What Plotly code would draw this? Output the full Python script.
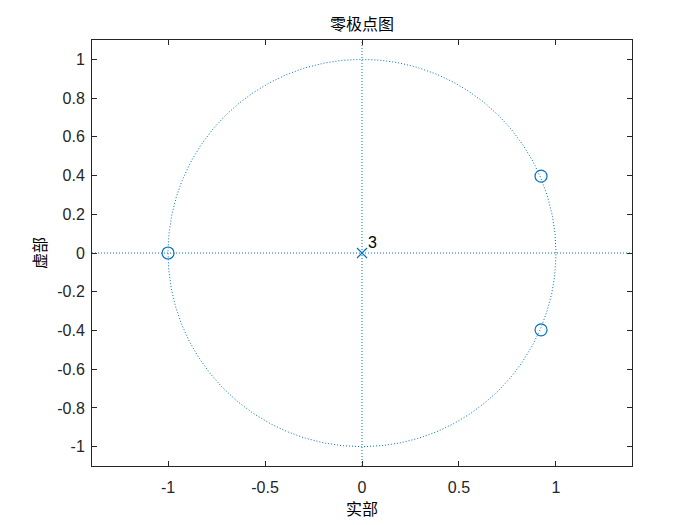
import numpy as np
import plotly.graph_objects as go

# Data
zeros_re = [-1.0, 0.923, 0.923]
zeros_im = [0.0, 0.397, -0.397]
poles_re = [0.0]
poles_im = [0.0]
pole_multiplicity = ["3"]

x_range = [-1.392, 1.392]
y_range = [-1.1, 1.1]
x_tickvals = [-1, -0.5, 0, 0.5, 1]
x_ticktext = ["-1", "-0.5", "0", "0.5", "1"]
y_tickvals = [-1, -0.8, -0.6, -0.4, -0.2, 0, 0.2, 0.4, 0.6, 0.8, 1]
y_ticktext = ["-1", "-0.8", "-0.6", "-0.4", "-0.2", "0", "0.2", "0.4", "0.6", "0.8", "1"]

title_text = "零极点图"
xlabel = "实部"
ylabel = "虚部"

blue = "#0072BD"
axcol = "#262626"
cjk = "Noto Sans CJK SC"
latin = "Liberation Sans, Arial"

theta = np.linspace(0, 2 * np.pi, 600)
dotted = dict(color=blue, width=1, dash="1px,2px")

fig = go.Figure()
# unit circle
fig.add_trace(go.Scatter(x=np.cos(theta), y=np.sin(theta), mode="lines",
                         line=dotted, hoverinfo="skip"))
# axis lines
fig.add_trace(go.Scatter(x=x_range, y=[0, 0], mode="lines", line=dotted, hoverinfo="skip"))
fig.add_trace(go.Scatter(x=[0, 0], y=y_range, mode="lines", line=dotted, hoverinfo="skip"))
# zeros
fig.add_trace(go.Scatter(x=zeros_re, y=zeros_im, mode="markers",
                         marker=dict(symbol="circle-open", size=12, color=blue,
                                     line=dict(width=1.2, color=blue))))
# poles
fig.add_trace(go.Scatter(x=poles_re, y=poles_im, mode="markers",
                         marker=dict(symbol="x-thin-open", size=10, color=blue,
                                     line=dict(width=1.2, color=blue))))
for xr, yi, t in zip(poles_re, poles_im, pole_multiplicity):
    fig.add_annotation(x=xr + 0.02, y=yi + 0.0, text=t, showarrow=False,
                       xanchor="left", yanchor="bottom",
                       font=dict(family=latin, size=16, color="black"))

axis_common = dict(showline=True, linecolor=axcol, linewidth=1, mirror="ticks",
                   ticks="inside", ticklen=5, tickcolor=axcol, tickwidth=1,
                   showgrid=False, zeroline=False,
                   tickfont=dict(family=latin, size=16, color=axcol))

fig.update_layout(
    width=700, height=525,
    paper_bgcolor="white", plot_bgcolor="white",
    showlegend=False,
    margin=dict(l=84, r=76, t=32, b=67),
    title=dict(text=title_text, x=0.5, xref="paper", xanchor="center",
               y=1, yref="paper", yanchor="bottom", pad=dict(b=10),
               font=dict(family=cjk, size=16, color="black")),
    xaxis=dict(range=x_range, tickvals=x_tickvals, ticktext=x_ticktext,
               ticklabelstandoff=7,
               title=dict(text=xlabel, font=dict(family=cjk, size=16, color="black"), standoff=5),
               **axis_common),
    yaxis=dict(range=y_range, tickvals=y_tickvals, ticktext=y_ticktext,
               ticklabelstandoff=3,
               title=dict(text=ylabel, font=dict(family=cjk, size=16, color="black"), standoff=6),
               **axis_common),
)

fig.write_html("out.html")
